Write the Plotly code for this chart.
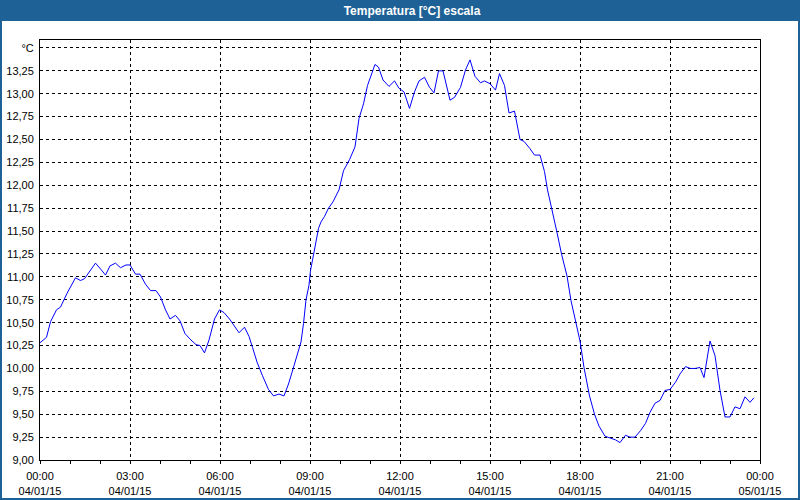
import plotly.graph_objects as go
import pandas as pd

# ---- data ----
times = ["00:00","00:13","00:21","00:33","00:41","00:54","01:11","01:21","01:29","01:43",
         "01:51","02:02","02:11","02:20","02:31","02:41","02:52","03:00","03:11","03:20",
         "03:31","03:41","03:52","04:01","04:11","04:20","04:31","04:40","04:50","05:02",
         "05:12","05:20","05:29","05:38","05:49","05:59","06:08","06:19","06:28","06:38",
         "06:49","06:58","07:05","07:14","07:25","07:37","07:47","07:58","08:08","08:17",
         "08:28","08:42","08:47","08:52","08:58","09:01","09:07","09:12","09:17","09:22",
         "09:29","09:37","09:46","09:58","10:07","10:19","10:30","10:38","10:47","10:55",
         "11:04","11:10","11:17","11:26","11:38","11:49","11:58","12:08","12:19","12:29",
         "12:38","12:49","12:59","13:08","13:17","13:26","13:40","13:49","14:01","14:11",
         "14:20","14:30","14:41","14:49","15:00","15:11","15:19","15:29","15:38","15:49",
         "16:00","16:08","16:20","16:29","16:40","16:49","16:55","17:04","17:13","17:23",
         "17:34","17:42","17:52","18:00","18:08","18:19","18:29","18:38","18:50","19:00",
         "19:11","19:20","19:31","19:40","19:50","20:01","20:11","20:20","20:30","20:40",
         "20:50","21:00","21:11","21:20","21:31","21:41","21:50","22:00","22:08","22:20",
         "22:30","22:40","22:50","23:00","23:10","23:20","23:30","23:40","23:48"]
temps = [10.28,10.34,10.51,10.64,10.67,10.82,10.99,10.96,10.98,11.09,
         11.15,11.08,11.02,11.12,11.15,11.10,11.13,11.13,11.03,11.03,
         10.92,10.85,10.85,10.78,10.64,10.54,10.58,10.52,10.38,10.31,
         10.26,10.25,10.17,10.31,10.54,10.64,10.61,10.54,10.47,10.39,
         10.45,10.35,10.23,10.07,9.92,9.77,9.70,9.72,9.70,9.83,
         10.03,10.29,10.49,10.75,10.91,11.07,11.24,11.39,11.53,11.60,
         11.66,11.75,11.82,11.95,12.16,12.28,12.42,12.73,12.89,13.09,
         13.24,13.32,13.29,13.15,13.08,13.14,13.06,13.02,12.84,13.02,
         13.14,13.18,13.07,13.01,13.25,13.25,12.93,12.96,13.07,13.26,
         13.37,13.19,13.12,13.14,13.11,13.04,13.22,13.09,12.79,12.81,
         12.50,12.48,12.40,12.33,12.33,12.15,11.95,11.74,11.51,11.25,
         11.01,10.74,10.49,10.30,10.01,9.70,9.50,9.37,9.26,9.24,
         9.22,9.19,9.27,9.25,9.25,9.32,9.40,9.52,9.62,9.65,
         9.76,9.77,9.85,9.94,10.02,10.00,10.00,10.01,9.90,10.30,
         10.14,9.76,9.47,9.47,9.58,9.56,9.69,9.63,9.68]

day = "2015-01-04"
x_tick_vals = ["2015-01-04 00:00","2015-01-04 03:00","2015-01-04 06:00","2015-01-04 09:00",
               "2015-01-04 12:00","2015-01-04 15:00","2015-01-04 18:00","2015-01-04 21:00",
               "2015-01-05 00:00"]
x_tick_text = ["00:00<br>04/01/15","03:00<br>04/01/15","06:00<br>04/01/15","09:00<br>04/01/15",
               "12:00<br>04/01/15","15:00<br>04/01/15","18:00<br>04/01/15","21:00<br>04/01/15",
               "00:00<br>05/01/15"]
y_tick_vals = [9.0,9.25,9.5,9.75,10.0,10.25,10.5,10.75,11.0,11.25,11.5,11.75,12.0,12.25,
               12.5,12.75,13.0,13.25,13.5]
y_tick_text = ["9,00","9,25","9,50","9,75","10,00","10,25","10,50","10,75","11,00","11,25",
               "11,50","11,75","12,00","12,25","12,50","12,75","13,00","13,25","°C"]
title_text = "Temperatura [°C] escala"

x = pd.to_datetime([f"{day} {t}" for t in times])

BLUE = "#1e6196"
FONT = "Liberation Sans"

fig = go.Figure()
fig.add_trace(go.Scatter(x=x, y=temps, mode="lines",
                         line=dict(color="#0000ff", width=1), hoverinfo="skip"))

L, R, T, B = 40, 40, 40, 40
W, H = 800, 500
pw, ph = W - L - R, H - T - B

def px(xp):
    return (xp - L) / pw

def py(yp):
    return (H - B - yp) / ph

fig.update_layout(
    width=W, height=H,
    margin=dict(l=L, r=R, t=T, b=B, autoexpand=False),
    paper_bgcolor="white", plot_bgcolor="white",
    showlegend=False,
    font=dict(family=FONT, size=11, color="black"),
    title=dict(text=title_text, x=412 / W, xanchor="center", xref="container",
               y=1 - 11 / H, yanchor="middle", yref="container",
               font=dict(family=FONT, size=12, color="white", weight="bold")),
    shapes=[
        dict(type="rect", xref="paper", yref="paper",
             x0=px(0), x1=px(W), y0=py(21), y1=py(0),
             fillcolor=BLUE, line=dict(width=0), layer="above"),
        dict(type="rect", xref="paper", yref="paper",
             x0=px(1), x1=px(W - 1), y0=py(H - 1), y1=py(1),
             fillcolor="rgba(0,0,0,0)", line=dict(color=BLUE, width=2), layer="above"),
    ],
)

fig.update_xaxes(
    type="date", automargin=False,
    range=["2015-01-04 00:00", "2015-01-05 00:00"],
    tickvals=x_tick_vals, ticktext=x_tick_text,
    showgrid=True, gridcolor="black", gridwidth=1, griddash="3px,3px",
    showline=True, linecolor="black", linewidth=1, mirror=True,
    ticks="outside", ticklen=3, tickcolor="black", ticklabelstandoff=3,
    minor=dict(dtick=3600000, ticks="outside", ticklen=3, tickcolor="black", showgrid=False),
    tickfont=dict(family=FONT, size=11, color="black"),
    zeroline=False,
)
fig.update_yaxes(
    automargin=False,
    range=[9.0, 13.587],
    tickvals=y_tick_vals, ticktext=y_tick_text,
    showgrid=True, gridcolor="black", gridwidth=1, griddash="3px,3px",
    showline=True, linecolor="black", linewidth=1, mirror=True,
    ticks="", ticklabelstandoff=3,
    tickfont=dict(family=FONT, size=11, color="black"),
    zeroline=False,
)

fig.write_html("out.html")
